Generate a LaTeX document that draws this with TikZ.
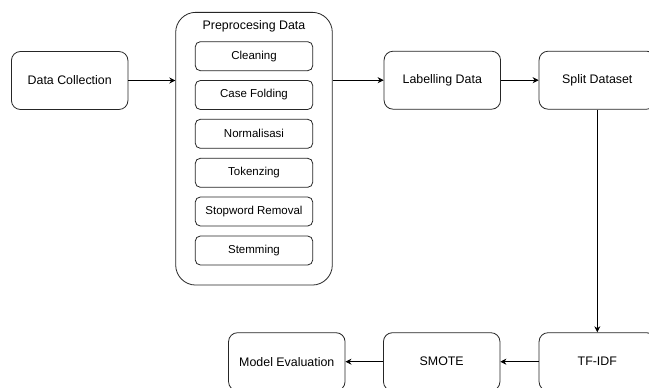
\documentclass[tikz,border=0pt]{standalone}
\usepackage{fontspec}
\setmainfont{Liberation Sans}
\usetikzlibrary{arrows.meta}
\tikzset{
  box/.style={draw=black!85, line width=0.8pt, rounded corners=9pt, minimum width=116.5pt, minimum height=58pt, inner sep=0pt, align=center, font=\fontsize{12.4}{14}\selectfont},
  inner/.style={draw=black!85, line width=0.8pt, rounded corners=5pt, minimum width=117.4pt, minimum height=29pt, inner sep=0pt, font=\fontsize{11.5}{13}\selectfont},
  container/.style={draw=black!85, line width=0.8pt, rounded corners=20pt, minimum width=156.6pt, minimum height=272.7pt, inner sep=0pt},
  arr/.style={line width=0.8pt, -{Stealth[length=6pt,width=6pt]}},
}
\begin{document}
\begin{tikzpicture}[x=1pt,y=-1pt]
\useasboundingbox (0,0) rectangle (649,388);
\fill[white] (0,0) rectangle (649,388);
\node[box] (dc) at (69.7,80.5) {Data Collection};
\node[container] (pre) at (254,148.7) {};
\node[font=\fontsize{12.4}{14}\selectfont] (pt) at (254,26.7) {Preprocesing Data};
\node[inner] (c1) at (254,56.2) {Cleaning};
\node[inner] (c2) at (254,95) {Case Folding};
\node[inner] (c3) at (254,133.8) {Normalisasi};
\node[inner] (c4) at (254,172.8) {Tokenzing};
\node[inner] (c5) at (254,211.5) {Stopword Removal};
\node[inner] (c6) at (254,250.5) {Stemming};
\node[box] (lab) at (442.3,80.2) {Labelling Data};
\node[box] (split) at (597.3,80.2) {Split Dataset};
\node[box] (tfidf) at (597.3,361.7) {TF-IDF};
\node[box] (smote) at (441.7,361.7) {SMOTE};
\node[box] (eval) at (286.8,361.7) {Model Evaluation};
\draw[arr] (dc.east) -- (dc.east -| pre.west);
\draw[arr] (pre.east |- lab.west) -- (lab.west);
\draw[arr] (lab.east) -- (split.west);
\draw[arr] (split.south) -- (tfidf.north);
\draw[arr] (tfidf.west) -- (smote.east);
\draw[arr] (smote.west) -- (eval.east);
\end{tikzpicture}
\end{document}
